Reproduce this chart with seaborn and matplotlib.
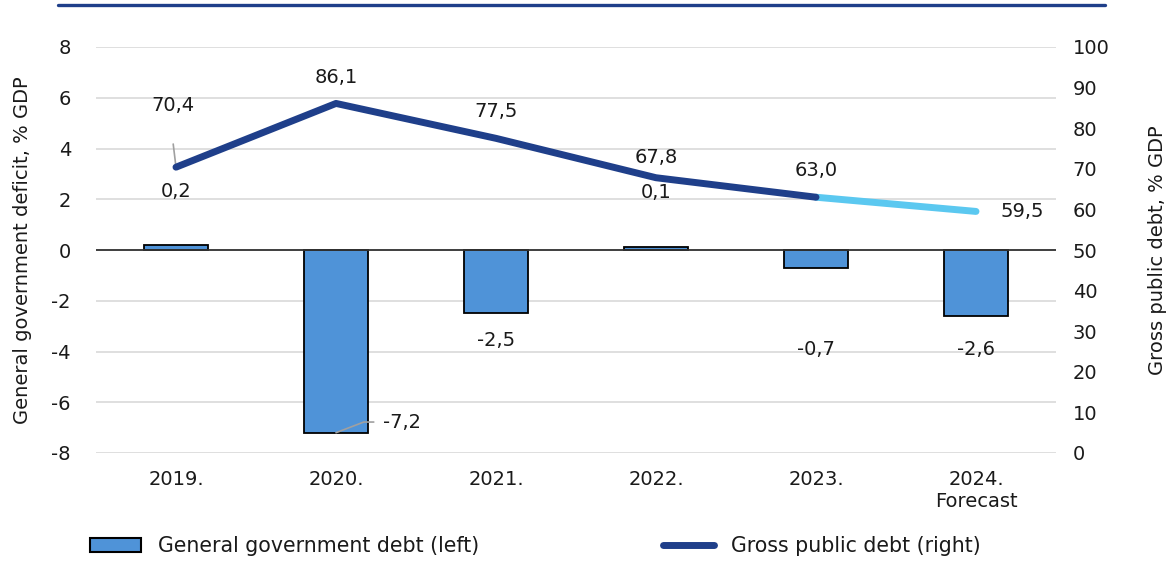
import matplotlib
matplotlib.use("Agg")
import matplotlib.pyplot as plt
import seaborn as sns
import pandas as pd
from matplotlib.lines import Line2D
from matplotlib.patches import Patch

categories = ["2019.", "2020.", "2021.", "2022.", "2023.", "2024.\nForecast"]
deficit = [0.2, -7.2, -2.5, 0.1, -0.7, -2.6]
debt = [70.4, 86.1, 77.5, 67.8, 63.0, 59.5]
deficit_labels = ["0,2", "-7,2", "-2,5", "0,1", "-0,7", "-2,6"]
debt_labels = ["70,4", "86,1", "77,5", "67,8", "63,0", "59,5"]

sns.set_theme(style="white")
plt.rcParams['font.family'] = ['DejaVu Sans']
plt.rcParams['axes.unicode_minus'] = False

BAR = "#4F93D8"
DARK = "#1F3F8A"
LIGHT = "#5BC8F0"
TXT = "#1a1a1a"
FS = 14

fig = plt.figure(figsize=(11.69, 5.79), dpi=100)
ax = fig.add_axes([96/1169, 1-453/579, 960/1169, 406/579])

df = pd.DataFrame({"cat": categories, "val": deficit})
sns.barplot(data=df, x="cat", y="val", ax=ax, color=BAR, width=0.4,
            edgecolor="black", linewidth=1.3, saturation=1, zorder=3)
ax.set_ylim(-8, 8)
ax.set_yticks(range(-8, 9, 2))
ax.set_xlim(-0.5, 5.5)
ax.axhline(0, color="#333333", lw=1.3, zorder=4)
ax.grid(axis="y", color="#d9d9d9", lw=1.2, zorder=0)
ax.set_axisbelow(True)
for s in ax.spines.values():
    s.set_visible(False)
ax.tick_params(axis="y", length=0, labelsize=FS, colors=TXT, pad=18)
ax.tick_params(axis="x", length=0, labelsize=FS, colors=TXT, pad=12)
ax.set_xlabel("")
ax.set_ylabel("General government deficit, % GDP", fontsize=FS, color=TXT, labelpad=14)

ax2 = ax.twinx()
xs = list(range(len(categories)))
sns.lineplot(x=xs[:5], y=debt[:5], ax=ax2, color=DARK, lw=5, solid_capstyle="round", zorder=5)
sns.lineplot(x=xs[4:], y=debt[4:], ax=ax2, color=LIGHT, lw=5, solid_capstyle="round", zorder=4)
ax2.set_ylim(0, 100)
ax2.set_yticks(range(0, 101, 10))
for s in ax2.spines.values():
    s.set_visible(False)
ax2.tick_params(axis="y", length=0, labelsize=FS, colors=TXT, pad=12)
ax2.set_ylabel("Gross public debt, % GDP", fontsize=FS, color=TXT, labelpad=28)
ax2.grid(False)

# debt labels
ax2.annotate(debt_labels[0], xy=(0, debt[0]), xytext=(-0.02, 85.7), ha="center", va="center",
             fontsize=FS, color=TXT,
             arrowprops=dict(arrowstyle="-", color="#a0a0a0", lw=1.2, shrinkA=19, shrinkB=1,
                             relpos=(0.4, 0.5)))
ax2.text(1, 92.6, debt_labels[1], ha="center", va="center", fontsize=FS, color=TXT)
ax2.text(2, 84.0, debt_labels[2], ha="center", va="center", fontsize=FS, color=TXT)
ax2.text(3, 72.9, debt_labels[3], ha="center", va="center", fontsize=FS, color=TXT)
ax2.text(4, 69.7, debt_labels[4], ha="center", va="center", fontsize=FS, color=TXT)
ax2.text(5.29, 59.5, debt_labels[5], ha="center", va="center", fontsize=FS, color=TXT)

# deficit labels
ax.text(0, 2.29, deficit_labels[0], ha="center", va="center", fontsize=FS, color=TXT)
ax.annotate(deficit_labels[1], xy=(1.0, deficit[1]), xytext=(1.41, -6.78), ha="center", va="center",
            fontsize=FS, color=TXT, zorder=6,
            arrowprops=dict(arrowstyle="-", color="#a0a0a0", lw=1.2, shrinkA=4, shrinkB=0,
                            relpos=(0, 0.5),
                            connectionstyle="angle,angleA=0,angleB=21,rad=0"))
ax.text(2, -3.55, deficit_labels[2], ha="center", va="center", fontsize=FS, color=TXT)
ax.text(3, 2.25, deficit_labels[3], ha="center", va="center", fontsize=FS, color=TXT)
ax.text(4, -3.94, deficit_labels[4], ha="center", va="center", fontsize=FS, color=TXT)
ax.text(5, -3.94, deficit_labels[5], ha="center", va="center", fontsize=FS, color=TXT)

# top rule
fig.add_artist(Line2D([58/1169, 1105/1169], [1-5/579, 1-5/579], color="#1F3F8A", lw=2.4))

handles = [Patch(facecolor=BAR, edgecolor="black", linewidth=1.5),
           Line2D([0], [0], color=DARK, lw=5, solid_capstyle="round")]
fig.legend(handles, ["General government debt (left)", "Gross public debt (right)"],
           loc="center", bbox_to_anchor=(0.458, 1-546/579), ncol=2, frameon=False,
           fontsize=14.8, handlelength=2.5, handleheight=0.65, columnspacing=8.9, handletextpad=0.85)
for t in fig.legends[0].get_texts():
    t.set_color(TXT)

fig.savefig("out.png", dpi=100)
